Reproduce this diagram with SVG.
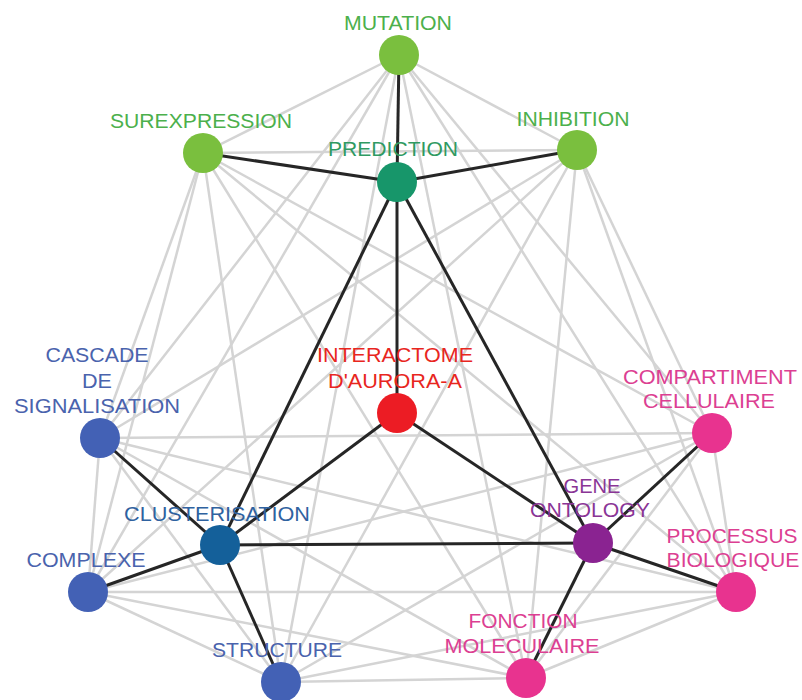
<svg xmlns="http://www.w3.org/2000/svg" width="802" height="700" viewBox="0 0 802 700">
<style>
.g{stroke:#d4d4d4;stroke-width:2.5;fill:none}
.b{stroke:#262626;stroke-width:3;fill:none}
text{font-family:"Liberation Sans",Arial,sans-serif;font-size:20px;text-anchor:middle}
.lg{fill:#4cb04c}.lb{fill:#4a63ad}.lp{fill:#dc3f92}.lr{fill:#e8261e}.lv{fill:#8a3596}.ld{fill:#2f9a62}.lc{fill:#2f62a0}
</style>
<rect width="802" height="700" fill="#ffffff"/>
<g id="connectors">
<g class="g">
<line x1="399" y1="55" x2="203" y2="153"/><line x1="399" y1="55" x2="577" y2="150"/><line x1="399" y1="55" x2="100" y2="438"/><line x1="399" y1="55" x2="88" y2="592"/><line x1="399" y1="55" x2="281" y2="682"/><line x1="399" y1="55" x2="712" y2="433"/><line x1="399" y1="55" x2="736" y2="592"/><line x1="399" y1="55" x2="526" y2="678"/>
<line x1="203" y1="153" x2="577" y2="150"/><line x1="203" y1="153" x2="100" y2="438"/><line x1="203" y1="153" x2="88" y2="592"/><line x1="203" y1="153" x2="281" y2="682"/><line x1="203" y1="153" x2="712" y2="433"/><line x1="203" y1="153" x2="736" y2="592"/><line x1="203" y1="153" x2="526" y2="678"/>
<line x1="577" y1="150" x2="100" y2="438"/><line x1="577" y1="150" x2="88" y2="592"/><line x1="577" y1="150" x2="281" y2="682"/><line x1="577" y1="150" x2="712" y2="433"/><line x1="577" y1="150" x2="736" y2="592"/><line x1="577" y1="150" x2="526" y2="678"/>
<line x1="100" y1="438" x2="88" y2="592"/><line x1="100" y1="438" x2="281" y2="682"/><line x1="100" y1="438" x2="712" y2="433"/><line x1="100" y1="438" x2="736" y2="592"/><line x1="100" y1="438" x2="526" y2="678"/>
<line x1="88" y1="592" x2="281" y2="682"/><line x1="88" y1="592" x2="712" y2="433"/><line x1="88" y1="592" x2="736" y2="592"/><line x1="88" y1="592" x2="526" y2="678"/>
<line x1="281" y1="682" x2="712" y2="433"/><line x1="281" y1="682" x2="736" y2="592"/><line x1="281" y1="682" x2="526" y2="678"/>
<line x1="712" y1="433" x2="736" y2="592"/><line x1="712" y1="433" x2="526" y2="678"/>
<line x1="736" y1="592" x2="526" y2="678"/>
</g>
<g class="b">
<line x1="397" y1="182" x2="399" y2="55"/><line x1="397" y1="182" x2="203" y2="153"/><line x1="397" y1="182" x2="577" y2="150"/>
<line x1="397" y1="182" x2="397" y2="413"/><line x1="397" y1="182" x2="220" y2="545"/><line x1="397" y1="182" x2="593" y2="543"/>
<line x1="397" y1="413" x2="220" y2="545"/><line x1="397" y1="413" x2="593" y2="543"/><line x1="220" y1="545" x2="593" y2="543"/>
<line x1="220" y1="545" x2="100" y2="438"/><line x1="220" y1="545" x2="88" y2="592"/><line x1="220" y1="545" x2="281" y2="682"/>
<line x1="593" y1="543" x2="712" y2="433"/><line x1="593" y1="543" x2="736" y2="592"/><line x1="593" y1="543" x2="526" y2="678"/>
</g>
</g>
<g id="mutation"><circle cx="399" cy="55" r="20" fill="#7abf3e"/><text class="lg" x="398" y="30" textLength="108" lengthAdjust="spacingAndGlyphs">MUTATION</text></g>
<g id="surexpression"><circle cx="203" cy="153" r="20" fill="#7abf3e"/><text class="lg" x="201" y="128" textLength="182" lengthAdjust="spacingAndGlyphs">SUREXPRESSION</text></g>
<g id="inhibition"><circle cx="577" cy="150" r="20" fill="#7abf3e"/><text class="lg" x="573" y="126" textLength="113" lengthAdjust="spacingAndGlyphs">INHIBITION</text></g>
<g id="prediction"><circle cx="397" cy="182" r="20" fill="#17966a"/><text class="ld" x="393" y="156" textLength="130" lengthAdjust="spacingAndGlyphs">PREDICTION</text></g>
<g id="interactome"><circle cx="397" cy="413" r="20" fill="#ec1c24"/><text class="lr" x="395" y="362" textLength="156" lengthAdjust="spacingAndGlyphs">INTERACTOME</text><text class="lr" x="395" y="388" textLength="134" lengthAdjust="spacingAndGlyphs">D'AURORA-A</text></g>
<g id="cascade"><circle cx="100" cy="438" r="20" fill="#4361b5"/><text class="lb" x="97" y="362" textLength="103" lengthAdjust="spacingAndGlyphs">CASCADE</text><text class="lb" x="97" y="388" textLength="30" lengthAdjust="spacingAndGlyphs">DE</text><text class="lb" x="97" y="413" textLength="166" lengthAdjust="spacingAndGlyphs">SIGNALISATION</text></g>
<g id="compartiment"><circle cx="712" cy="433" r="20" fill="#e8338f"/><text class="lp" x="710" y="384" textLength="174" lengthAdjust="spacingAndGlyphs">COMPARTIMENT</text><text class="lp" x="709" y="408" textLength="132" lengthAdjust="spacingAndGlyphs">CELLULAIRE</text></g>
<g id="clusterisation"><circle cx="220" cy="545" r="20" fill="#14609a"/><text class="lc" x="217" y="521" textLength="186" lengthAdjust="spacingAndGlyphs">CLUSTERISATION</text></g>
<g id="gene-ontology"><circle cx="593" cy="543" r="20" fill="#8a2391"/><text class="lv" x="592" y="493" textLength="57" lengthAdjust="spacingAndGlyphs">GENE</text><text class="lv" x="590" y="517" textLength="120" lengthAdjust="spacingAndGlyphs">ONTOLOGY</text></g>
<g id="complexe"><circle cx="88" cy="592" r="20" fill="#4361b5"/><text class="lb" x="86" y="567" textLength="119" lengthAdjust="spacingAndGlyphs">COMPLEXE</text></g>
<g id="processus"><circle cx="736" cy="592" r="20" fill="#e8338f"/><text class="lp" x="732" y="543" textLength="131" lengthAdjust="spacingAndGlyphs">PROCESSUS</text><text class="lp" x="733" y="567" textLength="133" lengthAdjust="spacingAndGlyphs">BIOLOGIQUE</text></g>
<g id="structure"><circle cx="281" cy="682" r="20" fill="#4361b5"/><text class="lb" x="277" y="657" textLength="130" lengthAdjust="spacingAndGlyphs">STRUCTURE</text></g>
<g id="fonction"><circle cx="526" cy="678" r="20" fill="#e8338f"/><text class="lp" x="523" y="628" textLength="109" lengthAdjust="spacingAndGlyphs">FONCTION</text><text class="lp" x="522" y="653" textLength="155" lengthAdjust="spacingAndGlyphs">MOLECULAIRE</text></g>
</svg>
